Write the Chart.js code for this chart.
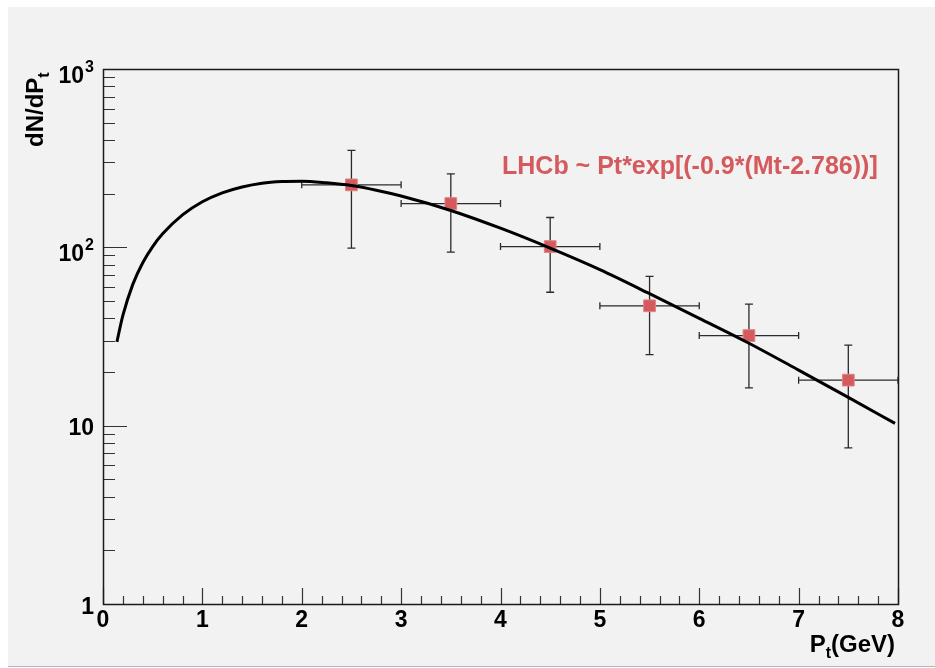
<!DOCTYPE html>
<html><head><meta charset="utf-8">
<script src="https://cdn.jsdelivr.net/npm/chart.js@4/dist/chart.umd.min.js"></script>
<style>html,body{margin:0;padding:0;background:#fff;} #wrap{width:935px;height:668px;}</style>
</head><body><div id="wrap"><canvas id="c" width="935" height="668"></canvas></div>
<script>
// ---- data ----
const pointX = [2.5, 3.5, 4.5, 5.5, 6.5, 7.5];
const pointXErr = [0.5, 0.5, 0.5, 0.5, 0.5, 0.5];
const pointY = [224, 176, 101, 47, 32, 18];
const pointYLow = [99, 94, 56, 25, 16.3, 7.5];
const pointYHigh = [350, 258, 147, 68.7, 48, 28.3];

const curveX = [0.14, 0.2, 0.3, 0.4, 0.5, 0.6, 0.8, 1.0, 1.2, 1.4, 1.6, 1.8, 2.0, 2.25, 2.5, 2.75, 3.0, 3.5, 4.0, 4.5, 5.0, 5.5, 6.0, 6.5, 7.0, 7.5, 7.97];
const curveY = [29.5, 41.5, 62, 82, 101, 119, 152, 180, 202, 218, 229, 234, 235, 230, 222, 209, 194, 161, 128, 99, 75, 55, 40, 29, 20.5, 14.4, 10.3];

const xTickValues = [0, 1, 2, 3, 4, 5, 6, 7, 8];
const xTickLabels = ['0', '1', '2', '3', '4', '5', '6', '7', '8'];
const yTickValues = [1, 10, 100, 1000];
const yTickBase = ['1', '10', '10', '10'];
const yTickExp = ['', '', '2', '3'];

const legendText = 'LHCb ~ Pt*exp[(-0.9*(Mt-2.786))]';
const xTitleMain = 'P', xTitleSub = 't', xTitleTail = '(GeV)';
const yTitleMain = 'dN/dP', yTitleSub = 't';

const FONT = '"Liberation Sans", Arial, Helvetica, sans-serif';
const RED = '#d45a5d';

const rootPlugin = {
  id: 'rootStyle',
  beforeDraw(chart) {
    const c = chart.ctx;
    c.save();
    c.fillStyle = '#ffffff';
    c.fillRect(0, 0, chart.width, chart.height);
    c.fillStyle = '#f2f2f2';
    c.fillRect(8, 7, chart.width - 8, 659);
    c.fillStyle = '#b4b4b4';
    c.fillRect(8, 666, chart.width - 8, 1);
    c.restore();
  },
  beforeDatasetsDraw(chart) {
    const c = chart.ctx, xs = chart.scales.x, ys = chart.scales.y;
    const a = chart.chartArea;
    c.save();
    c.beginPath();
    c.rect(a.left, a.top, a.right - a.left, a.bottom - a.top);
    c.clip();
    c.strokeStyle = '#2b2b2b';
    c.lineWidth = 1.3;
    for (let i = 0; i < pointX.length; i++) {
      const px = xs.getPixelForValue(pointX[i]);
      const py = ys.getPixelForValue(pointY[i]);
      const yl = ys.getPixelForValue(pointYLow[i]);
      const yh = ys.getPixelForValue(pointYHigh[i]);
      const xl = xs.getPixelForValue(pointX[i] - pointXErr[i]);
      const xh = xs.getPixelForValue(pointX[i] + pointXErr[i]);
      c.beginPath();
      c.moveTo(px, yh); c.lineTo(px, yl);
      c.moveTo(px - 4, yh); c.lineTo(px + 4, yh);
      c.moveTo(px - 4, yl); c.lineTo(px + 4, yl);
      c.moveTo(xl, py); c.lineTo(xh, py);
      c.moveTo(xl, py - 3.5); c.lineTo(xl, py + 3.5);
      c.moveTo(xh, py - 3.5); c.lineTo(xh, py + 3.5);
      c.stroke();
    }
    c.restore();
  },
  afterDraw(chart) {
    const c = chart.ctx, xs = chart.scales.x, ys = chart.scales.y;
    const a = chart.chartArea;
    c.save();
    // ticks
    c.strokeStyle = '#333';
    c.lineWidth = 1.2;
    c.beginPath();
    for (let k = 0; k <= 40; k++) {
      const v = k * 0.2;
      const px = Math.round(xs.getPixelForValue(v)) + 0.5;
      const len = (k % 5 === 0) ? 16 : 8;
      c.moveTo(px, a.bottom); c.lineTo(px, a.bottom - len);
    }
    for (let d = 0; d < 3; d++) {
      const base = Math.pow(10, d);
      for (let m = 1; m <= 9; m++) {
        const v = base * m;
        const py = Math.round(ys.getPixelForValue(v)) + 0.5;
        const len = (m === 1) ? 24 : 12;
        c.moveTo(a.left, py); c.lineTo(a.left + len, py);
      }
    }
    const pTop = Math.round(ys.getPixelForValue(1000)) + 0.5;
    c.moveTo(a.left, pTop); c.lineTo(a.left + 24, pTop);
    c.stroke();
    // frame
    c.strokeStyle = '#1a1a1a';
    c.lineWidth = 1.5;
    c.strokeRect(Math.round(a.left) + 0.5, Math.round(a.top) + 0.5, Math.round(a.right - a.left), Math.round(a.bottom - a.top));

    // x tick labels
    c.fillStyle = '#000';
    c.font = 'bold 23px ' + FONT;
    c.textAlign = 'center';
    c.textBaseline = 'alphabetic';
    xTickValues.forEach((v, i) => {
      c.fillText(xTickLabels[i], xs.getPixelForValue(v), 627);
    });
    // y tick labels
    yTickValues.forEach((v, i) => {
      const py = ys.getPixelForValue(v);
      let right = 94;
      if (yTickExp[i]) {
        c.font = 'bold 16px ' + FONT;
        c.textAlign = 'right';
        c.fillText(yTickExp[i], right, py + 3);
        right -= c.measureText(yTickExp[i]).width + 1;
        c.font = 'bold 23px ' + FONT;
        c.fillText(yTickBase[i], right, py + 14);
      } else {
        c.font = 'bold 23px ' + FONT;
        c.textAlign = 'right';
        c.fillText(yTickBase[i], right, py + (v === 1 ? 10 : 9));
      }
    });
    // x title
    c.textAlign = 'left';
    c.font = 'bold 24px ' + FONT;
    const wP = c.measureText(xTitleMain).width;
    const wTail = c.measureText(xTitleTail).width;
    c.font = 'bold 16px ' + FONT;
    const wSub = c.measureText(xTitleSub).width;
    let x0 = 895 - wTail - wSub - wP;
    c.font = 'bold 24px ' + FONT;
    c.fillText(xTitleMain, x0, 652);
    c.font = 'bold 16px ' + FONT;
    c.fillText(xTitleSub, x0 + wP, 658);
    c.font = 'bold 24px ' + FONT;
    c.fillText(xTitleTail, x0 + wP + wSub, 652);
    // y title
    c.save();
    c.translate(43, 147);
    c.rotate(-Math.PI / 2);
    c.font = 'bold 24px ' + FONT;
    c.textAlign = 'left';
    c.fillText(yTitleMain, 0, 0);
    const wM = c.measureText(yTitleMain).width;
    c.font = 'bold 16px ' + FONT;
    c.fillText(yTitleSub, wM, 6);
    c.restore();
    // legend text
    c.fillStyle = RED;
    c.font = 'bold 25px ' + FONT;
    c.textAlign = 'left';
    c.fillText(legendText, 502, 174);
    c.restore();
  }
};

new Chart(document.getElementById('c').getContext('2d'), {
  type: 'scatter',
  data: {
    datasets: [
      {
        type: 'line',
        label: 'fit',
        data: curveX.map((x, i) => ({ x: x, y: curveY[i] })),
        borderColor: '#000',
        borderWidth: 3,
        pointRadius: 0,
        fill: false,
        cubicInterpolationMode: 'monotone',
        order: 0
      },
      {
        type: 'scatter',
        label: 'LHCb',
        data: pointX.map((x, i) => ({ x: x, y: pointY[i] })),
        backgroundColor: RED,
        borderColor: '#e08386',
        borderWidth: 1,
        pointStyle: 'rect',
        pointRadius: 8.3,
        order: 1
      }
    ]
  },
  options: {
    responsive: false,
    animation: false,
    devicePixelRatio: 1,
    layout: { padding: { left: 103, right: 37, top: 69, bottom: 64 } },
    plugins: { legend: { display: false }, tooltip: { enabled: false } },
    scales: {
      x: { type: 'linear', min: 0, max: 8, display: false },
      y: { type: 'logarithmic', min: 1, max: 1000, display: false }
    }
  },
  plugins: [rootPlugin]
});
</script>
</body></html>
